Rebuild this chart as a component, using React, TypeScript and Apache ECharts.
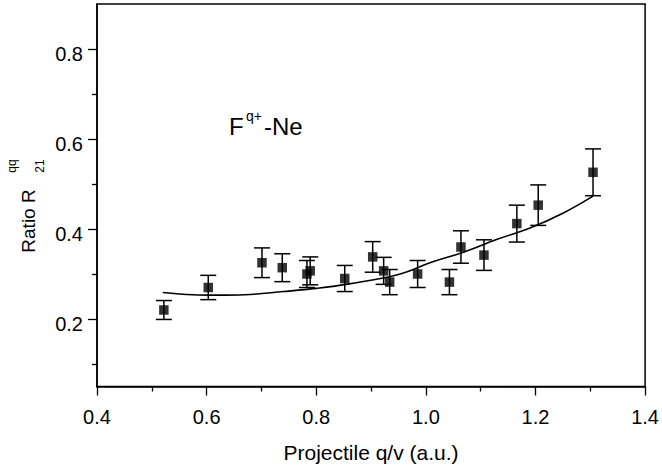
import React, { useEffect, useRef } from 'react';
import * as echarts from 'echarts';

// Measured points: projectile q/v (a.u.), ratio R21^qq and its error
const qv = [0.522, 0.603, 0.701, 0.738, 0.783, 0.789, 0.852, 0.903, 0.923, 0.934, 0.985, 1.043, 1.064, 1.106, 1.166, 1.205, 1.305];
const ratio = [0.220, 0.270, 0.325, 0.314, 0.300, 0.307, 0.290, 0.338, 0.307, 0.282, 0.300, 0.282, 0.360, 0.342, 0.412, 0.453, 0.526];
const ratioErr = [0.021, 0.027, 0.033, 0.031, 0.030, 0.031, 0.029, 0.034, 0.030, 0.028, 0.030, 0.028, 0.036, 0.034, 0.041, 0.045, 0.052];

// Fitted curve
const fitQv = [0.52, 0.575, 0.62, 0.67, 0.74, 0.80, 0.86, 0.95, 1.01, 1.07, 1.13, 1.19, 1.25, 1.305];
const fitRatio = [0.259, 0.254, 0.253, 0.254, 0.261, 0.268, 0.278, 0.299, 0.326, 0.349, 0.377, 0.402, 0.435, 0.473];

// Axis ticks
const yMajorTicks = [0.2, 0.4, 0.6, 0.8];
const yMinorTicks = [0.1, 0.3, 0.5, 0.7];

export default function App() {
  const ref = useRef<HTMLDivElement>(null);
  useEffect(() => {
    const chart = echarts.init(ref.current as HTMLDivElement, null, { renderer: 'svg' });
    const font = "'Liberation Sans', Arial, Helvetica, sans-serif";
    const points = qv.map((x, i) => [x, ratio[i]]);
    const bars = qv.map((x, i) => [x, ratio[i] - ratioErr[i], ratio[i] + ratioErr[i]]);
    const fit = fitQv.map((x, i) => [x, fitRatio[i]]);
    const black = '#000';
    chart.setOption({
      animation: false,
      backgroundColor: '#fff',
      textStyle: { fontFamily: font },
      grid: {
        left: 97, right: 16, top: 4, bottom: 81.5,
        show: true, borderColor: black, borderWidth: 1.5, backgroundColor: 'transparent',
      },
      xAxis: {
        type: 'value', min: 0.4, max: 1.4, interval: 0.2,
        axisLine: { lineStyle: { color: black, width: 1.5 } },
        axisTick: { length: 9, lineStyle: { color: black, width: 1.3 } },
        minorTick: { show: true, splitNumber: 2, length: 5, lineStyle: { color: black, width: 1.3 } },
        splitLine: { show: false },
        minorSplitLine: { show: false },
        axisLabel: {
          color: black, fontSize: 20, fontFamily: font, margin: 20,
          formatter: (v: number) => v.toFixed(1),
        },
      },
      yAxis: [
        {
          type: 'value', min: 0.05, max: 0.9,
          axisLine: { lineStyle: { color: black, width: 1.5 } },
          axisTick: { length: 9, customValues: yMajorTicks, lineStyle: { color: black, width: 1.3 } },
          splitLine: { show: false },
          axisLabel: {
            color: black, fontSize: 20, fontFamily: font, margin: 14,
            customValues: yMajorTicks,
            verticalAlign: 'top', lineHeight: 10,
            formatter: (v: number) => v.toFixed(1),
          },
        },
        {
          type: 'value', min: 0.05, max: 0.9, position: 'left', offset: 0,
          axisLine: { show: false },
          axisTick: { show: true, length: 5, customValues: yMinorTicks, lineStyle: { color: black, width: 1.3 } },
          splitLine: { show: false },
          axisLabel: { show: false },
        },
      ],
      graphic: [
        {
          type: 'text', x: 371, y: 452,
          style: { text: 'Projectile q/v (a.u.)', fill: black, font: `21px ${font}`, align: 'center', verticalAlign: 'middle' },
        },
        {
          type: 'text', x: 28.5, y: 221, rotation: Math.PI / 2,
          style: { text: 'Ratio R', fill: black, font: `19px ${font}`, align: 'center', verticalAlign: 'middle' },
        },
        {
          type: 'text', x: 39.5, y: 166, rotation: Math.PI / 2,
          style: { text: '21', fill: black, font: `12px ${font}`, align: 'center', verticalAlign: 'middle' },
        },
        {
          type: 'text', x: 11.5, y: 166, rotation: Math.PI / 2,
          style: { text: 'qq', fill: black, font: `12px ${font}`, align: 'center', verticalAlign: 'middle' },
        },
        {
          type: 'text', x: 229, y: 126,
          style: { text: 'F', fill: black, font: `24px ${font}`, align: 'left', verticalAlign: 'middle' },
        },
        {
          type: 'text', x: 246, y: 116,
          style: { text: 'q+', fill: black, font: `14px ${font}`, align: 'left', verticalAlign: 'middle' },
        },
        {
          type: 'text', x: 264, y: 126,
          style: { text: '-Ne', fill: black, font: `24px ${font}`, align: 'left', verticalAlign: 'middle' },
        },
      ],
      series: [
        {
          type: 'line', data: fit, smooth: 0.4, showSymbol: false, symbol: 'none',
          lineStyle: { color: black, width: 1.6 }, z: 2,
        },
        {
          type: 'custom', data: bars, z: 3,
          renderItem: (params: any, api: any) => {
            const x = api.value(0);
            const lo = api.coord([x, api.value(1)]);
            const hi = api.coord([x, api.value(2)]);
            const hw = 8;
            const st = { stroke: black, lineWidth: 1.5 };
            return {
              type: 'group',
              children: [
                { type: 'line', shape: { x1: lo[0], y1: lo[1], x2: hi[0], y2: hi[1] }, style: st },
                { type: 'line', shape: { x1: lo[0] - hw, y1: lo[1], x2: lo[0] + hw, y2: lo[1] }, style: st },
                { type: 'line', shape: { x1: hi[0] - hw, y1: hi[1], x2: hi[0] + hw, y2: hi[1] }, style: st },
              ],
            };
          },
        },
        {
          type: 'scatter', data: points, symbol: 'rect', symbolSize: 9.5,
          itemStyle: { color: black }, z: 4,
        },
      ],
    });
    return () => chart.dispose();
  }, []);
  return <div ref={ref} style={{ position: 'fixed', left: 0, top: 0, width: 662, height: 468 }} />;
}
